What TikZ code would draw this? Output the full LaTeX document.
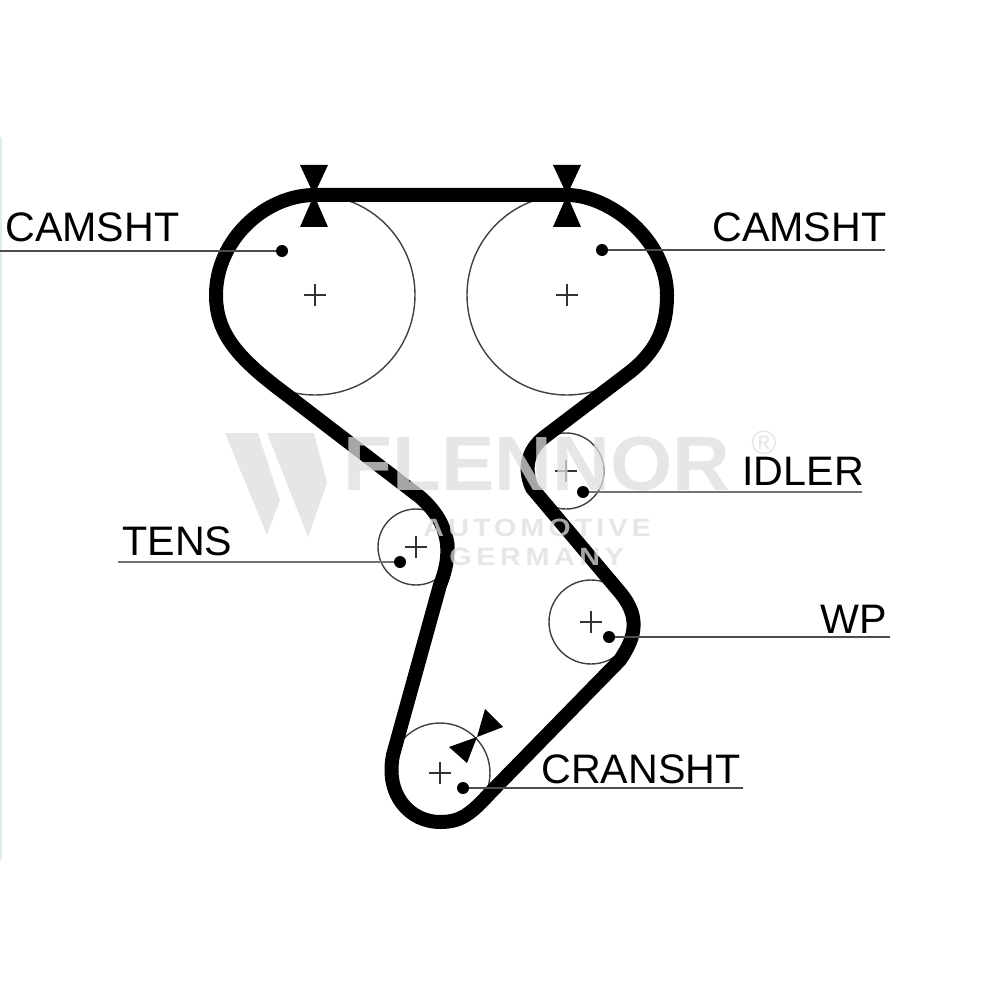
\documentclass[tikz,border=0pt]{standalone}
\usepackage{fontspec}
\setmainfont{Liberation Sans}
\definecolor{edgetint}{rgb}{0.88,0.92,0.92}
\tikzset{
    pulley/.style={draw=black!75, line width=0.7pt, circle, inner sep=0pt},
    pin/.style={fill=black, circle, inner sep=0pt, minimum size=6pt},
    leader/.style={draw=black!70, line width=0.7pt},
    heavyleader/.style={draw=black!55, line width=1.3pt},
    tag/.style={anchor=base west, inner sep=0pt, font=\fontsize{20.6}{24}\selectfont},
    belt/.style={line width=7pt, line join=round},
    wmark/.style={inner sep=0pt, text=black!13, opacity=0.75}
}
\begin{document}
\begin{tikzpicture}[x=0.5pt, y=-0.5pt]
    \useasboundingbox (0,0) rectangle (1000,1000);
    % Draw the tinted left edge
    \fill[edgetint] (0,137) rectangle (2,860);
    % Draw the pulleys
    \node[pulley, minimum size=100pt] (camL) at (315,295) {};
    \node[pulley, minimum size=100pt] (camR) at (567,295) {};
    \node[pulley, minimum size=38pt] (tens) at (416,547) {};
    \node[pulley, minimum size=38pt] (idler) at (566,471) {};
    \node[pulley, minimum size=42pt] (wp) at (591,622) {};
    \node[pulley, minimum size=50pt] (crank) at (440,773) {};
    % Draw the centre crosses
    \foreach \p in {camL, camR, tens, idler, wp, crank} {
    \draw[black!80, line width=0.6pt] (\p.center) +(-11,0) -- +(11,0) (\p.center) +(0,-11) -- +(0,11);
    }
    % Draw the belt
    \draw[belt]
    (315,195) -- (567,195) .. controls (610,195) and (667,240) ..
    (667,295) .. controls (667,330) and (655,352) ..
    (630,372) -- (547,435) .. controls (530,447) and (522,465) ..
    (532,488) -- (618,590) .. controls (640,615) and (637,635) ..
    (620,660) -- (490,793) .. controls (470,815) and (460,822) ..
    (440,822) .. controls (410,822) and (385,795) ..
    (393,755) -- (440,585) .. controls (452,555) and (452,525) ..
    (420,497) -- (287,395) .. controls (240,360) and (216,335) ..
    (216,295) .. controls (216,240) and (265,195) ..
    (315,195) -- cycle;
    % Draw the timing marks
    \foreach \x in {314, 567} {
    \fill (\x,195) -- (\x-14,165) -- (\x+14,165) -- cycle;
    \fill (\x,195) -- (\x-14,227) -- (\x+14,227) -- cycle;
    }
    \fill (477,737) -- (485,709) -- (503,727) -- cycle;
    \fill (477,737) -- (449,747) -- (467,763) -- cycle;
    % Draw the pins and their leaders
    \node[pin] (pinCamL) at (282,251) {};
    \node[pin] (pinCamR) at (602,250) {};
    \node[pin] (pinIdler) at (583,492) {};
    \node[pin] (pinTens) at (400,562) {};
    \node[pin] (pinWp) at (609,637) {};
    \node[pin] (pinCrank) at (463,788) {};
    \coordinate (endCamL) at (0,251);
    \coordinate (endCamR) at (885,250);
    \coordinate (endIdler) at (862,492);
    \coordinate (endTens) at (118,562);
    \coordinate (endWp) at (890,637);
    \coordinate (endCrank) at (743,788);
    \draw[leader] (pinCamL) -- (endCamL);
    \draw[leader] (pinCamR) -- (endCamR);
    \draw[heavyleader] (pinIdler) -- (endIdler);
    \draw[heavyleader] (pinTens) -- (endTens);
    \draw[leader] (pinWp) -- (endWp);
    \draw[leader] (pinCrank) -- (endCrank);
    % Draw the watermark over the belt
    \fill[black!13, opacity=0.75] (225,433) -- (258,433) -- (280,500) -- (267,535) -- cycle;
    \fill[black!13, opacity=0.75] (267,433) -- (314,433) -- (327,483) -- (308,537) -- cycle;
    \node[wmark, anchor=base west, font=\bfseries\fontsize{38.5}{46}\selectfont, xscale=1.04] (brand) at (343,490) {FLENNOR};
    \node[wmark, anchor=center, font=\fontsize{17}{18}\selectfont] (reg) at (764,443) {®};
    \node[wmark, anchor=base west, font=\bfseries\fontsize{12.5}{14}\selectfont\addfontfeature{LetterSpace=14}, xscale=1.15] (auto) at (423,536) {AUTOMOTIVE};
    \node[wmark, anchor=base west, font=\bfseries\fontsize{12.5}{14}\selectfont\addfontfeature{LetterSpace=16}, xscale=1.15] (germ) at (449,565) {GERMANY};
    % Draw the labels
    \node[tag] (lblCamL) at (5,242) {CAMSHT};
    \node[tag] (lblCamR) at (712,242) {CAMSHT};
    \node[tag] (lblIdler) at (742,485) {IDLER};
    \node[tag] (lblTens) at (122,555) {TENS};
    \node[tag] (lblWp) at (820,633) {WP};
    \node[tag] (lblCrank) at (541,783) {CRANSHT};
\end{tikzpicture}
\end{document}
